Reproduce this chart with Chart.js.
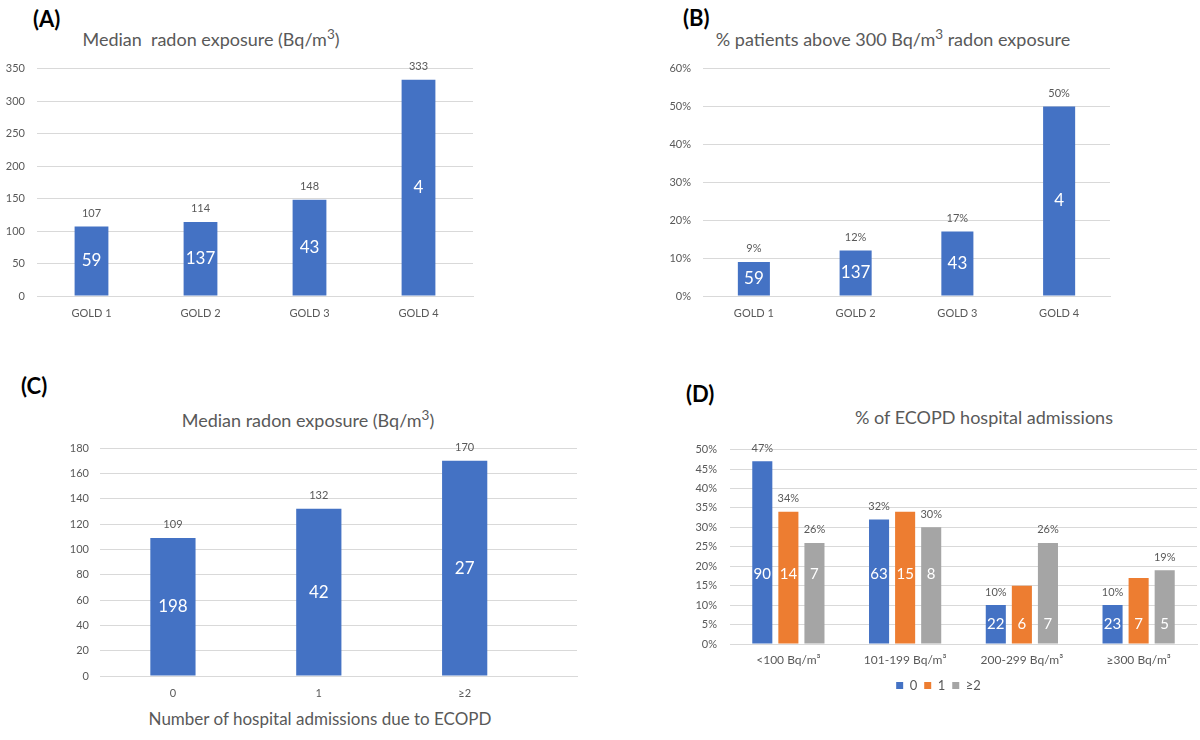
<!DOCTYPE html>
<html>
<head>
<meta charset="utf-8">
<script src="https://cdn.jsdelivr.net/npm/chart.js@4/dist/chart.umd.min.js"></script>
<style>
body { margin:0; background:#fff; }
#wrap { position:relative; width:1200px; height:740px; background:#fff; font-family:Lato, sans-serif; }
.box { position:absolute; }
.tag { position:absolute; font-weight:bold; font-size:22px; color:#000; }
.ttl { position:absolute; transform:translate(-50%,-50%); white-space:nowrap; font-size:18px; color:#595959; }
.ttl sup { font-size:0.75em; }
</style>
</head>
<body>
<div id="wrap">
  <div class="tag" style="left:33px;top:5px">(A)</div>
  <div class="ttl" style="left:211px;top:38px">Median&nbsp; radon exposure (Bq/m<sup>3</sup>)</div>
  <div class="box" style="left:0;top:50px;width:480px;height:276px"><canvas id="chartA"></canvas></div>

  <div class="tag" style="left:683px;top:4px">(B)</div>
  <div class="ttl" style="left:893px;top:38px">% patients above 300 Bq/m<sup>3</sup> radon exposure</div>
  <div class="box" style="left:640px;top:50px;width:480px;height:276px"><canvas id="chartB"></canvas></div>

  <div class="tag" style="left:21px;top:372px">(C)</div>
  <div class="ttl" style="left:308px;top:419px">Median radon exposure (Bq/m<sup>3</sup>)</div>
  <div class="box" style="left:0;top:430px;width:590px;height:276px"><canvas id="chartC"></canvas></div>
  <div class="ttl" style="left:320px;top:718px;font-size:17px">Number of hospital admissions due to ECOPD</div>

  <div class="tag" style="left:686px;top:380px">(D)</div>
  <div class="ttl" style="left:984px;top:417px">% of ECOPD hospital admissions</div>
  <div class="box" style="left:680px;top:430px;width:520px;height:272px"><canvas id="chartD"></canvas></div>
</div>
<script>
// (A) median radon by GOLD stage
var aLabels = ['GOLD 1', 'GOLD 2', 'GOLD 3', 'GOLD 4'];
var aMedian = [107, 114, 148, 333];
var aCounts = [59, 137, 43, 4];

// (B) % patients above 300 Bq/m3
var bLabels = ['GOLD 1', 'GOLD 2', 'GOLD 3', 'GOLD 4'];
var bPct = [9, 12, 17, 50];
var bCounts = [59, 137, 43, 4];

// (C) median radon by number of admissions
var cLabels = ['0', '1', '≥2'];
var cMedian = [109, 132, 170];
var cCounts = [198, 42, 27];

// (D) % of ECOPD admissions by radon band
var dLabels = ['<100 Bq/m³', '101-199 Bq/m³', '200-299 Bq/m³', '≥300 Bq/m³'];
var dSeries = ['0', '1', '≥2'];
var d0 = [47, 32, 10, 10];
var d1 = [34, 34, 15, 17];
var d2 = [26, 30, 26, 19];
var d0Counts = [90, 63, 22, 23];
var d1Counts = [14, 15, 6, 7];
var d2Counts = [7, 8, 7, 5];
var d0Tags = ['47%', '32%', '10%', '10%'];
var d1Tags = ['34%', '', '', ''];
var d2Tags = ['26%', '30%', '26%', '19%'];

var BLUE = '#4472C4', ORANGE = '#ED7D31', GRAY = '#A5A5A5';
var GRID = '#D9D9D9', TEXT = '#595959';

Chart.defaults.font.family = 'Lato, sans-serif';
Chart.defaults.color = TEXT;
Chart.defaults.animation = false;

// value above each bar, count inside the bar
var barLabels = {
	id: 'barLabels',
	afterDatasetsDraw: function(chart, args, opts) {
		var ctx = chart.ctx;
		var y = chart.scales.y;
		chart.data.datasets.forEach(function(ds, di) {
			chart.getDatasetMeta(di).data.forEach(function(bar, i) {
				ctx.save();
				ctx.textAlign = 'center';
				ctx.textBaseline = 'middle';
				var tag = ds.tags ? ds.tags[i] : ds.data[i] + (opts.suffix || '');
				if (tag !== '') {
					ctx.fillStyle = TEXT;
					ctx.font = '11px Lato';
					ctx.fillText(tag, bar.x, bar.y - 13);
				}
				var cy = opts.countAt ? y.getPixelForValue(opts.countAt[i]) : (bar.y + bar.base) / 2;
				ctx.fillStyle = '#fff';
				ctx.font = (opts.countSize || 17) + 'px Lato';
				ctx.fillText(ds.counts[i], bar.x, cy);
				ctx.restore();
			});
		});
	}
};

function yAxis(max, step, width, pad, suffix) {
	return {
		min: 0, max: max,
		border: { display: false },
		grid: { color: GRID, drawTicks: false },
		ticks: { stepSize: step, padding: pad, font: { size: 11 }, color: TEXT,
			callback: function(v) { return v + suffix; } },
		afterFit: function(s) { s.width = width; }
	};
}

function xAxis(height, pad, size) {
	return {
		grid: { display: false, drawTicks: false },
		border: { color: GRID },
		ticks: { padding: pad, font: { size: size || 11 }, color: TEXT },
		afterFit: function(s) { s.height = height; }
	};
}

new Chart(document.getElementById('chartA'), {
	type: 'bar',
	data: {
		labels: aLabels,
		datasets: [{ data: aMedian, counts: aCounts, backgroundColor: BLUE,
			barPercentage: 0.31, categoryPercentage: 1 }]
	},
	options: {
		maintainAspectRatio: false,
		layout: { padding: { top: 18, right: 7, left: 0, bottom: 0 } },
		plugins: { legend: { display: false }, tooltip: { enabled: false }, barLabels: {} },
		scales: { x: xAxis(30, 11), y: yAxis(350, 50, 37, 12, '') }
	},
	plugins: [barLabels]
});

new Chart(document.getElementById('chartB'), {
	type: 'bar',
	data: {
		labels: bLabels,
		datasets: [{ data: bPct, counts: bCounts, backgroundColor: BLUE,
			barPercentage: 0.315, categoryPercentage: 1 }]
	},
	options: {
		maintainAspectRatio: false,
		layout: { padding: { top: 18, right: 10, left: 0, bottom: 0 } },
		plugins: { legend: { display: false }, tooltip: { enabled: false }, barLabels: { suffix: '%' } },
		scales: { x: xAxis(30, 11), y: yAxis(60, 10, 63, 12, '%') }
	},
	plugins: [barLabels]
});

// linear x so the grid runs on past the last bar, as in the original
var cx = xAxis(30, 11);
cx.type = 'linear';
cx.offset = false;
cx.min = -0.5;
cx.max = 2.77;
cx.afterBuildTicks = function(s) { s.ticks = cLabels.map(function(l, i) { return { value: i }; }); };
cx.ticks.callback = function(v) { return cLabels[v]; };

new Chart(document.getElementById('chartC'), {
	type: 'bar',
	data: {
		datasets: [{ data: cMedian.map(function(v, i) { return { x: i, y: v }; }),
			tags: cMedian.map(String), counts: cCounts, backgroundColor: BLUE,
			barPercentage: 0.31, categoryPercentage: 1 }]
	},
	options: {
		maintainAspectRatio: false,
		layout: { padding: { top: 18, right: 13, left: 0, bottom: 0 } },
		plugins: { legend: { display: false }, tooltip: { enabled: false }, barLabels: {} },
		scales: { x: cx, y: yAxis(180, 20, 100, 11, '') }
	},
	plugins: [barLabels]
});

new Chart(document.getElementById('chartD'), {
	type: 'bar',
	data: {
		labels: dLabels,
		datasets: [
			{ label: dSeries[0], data: d0, tags: d0Tags, counts: d0Counts, backgroundColor: BLUE },
			{ label: dSeries[1], data: d1, tags: d1Tags, counts: d1Counts, backgroundColor: ORANGE },
			{ label: dSeries[2], data: d2, tags: d2Tags, counts: d2Counts, backgroundColor: GRAY }
		]
	},
	options: {
		maintainAspectRatio: false,
		datasets: { bar: { barPercentage: 0.77, categoryPercentage: 0.67 } },
		layout: { padding: { top: 17, right: 3, left: 0, bottom: 0 } },
		plugins: {
			legend: { position: 'bottom',
				labels: { boxWidth: 7, boxHeight: 7, padding: 7, font: { size: 13 }, color: TEXT } },
			tooltip: { enabled: false },
			barLabels: { countAt: [18, 18, 5, 5], countSize: 15 }
		},
		scales: { x: xAxis(28, 9, 12), y: yAxis(50, 5, 50, 13, '%') }
	},
	plugins: [barLabels]
});
</script>
</body>
</html>
